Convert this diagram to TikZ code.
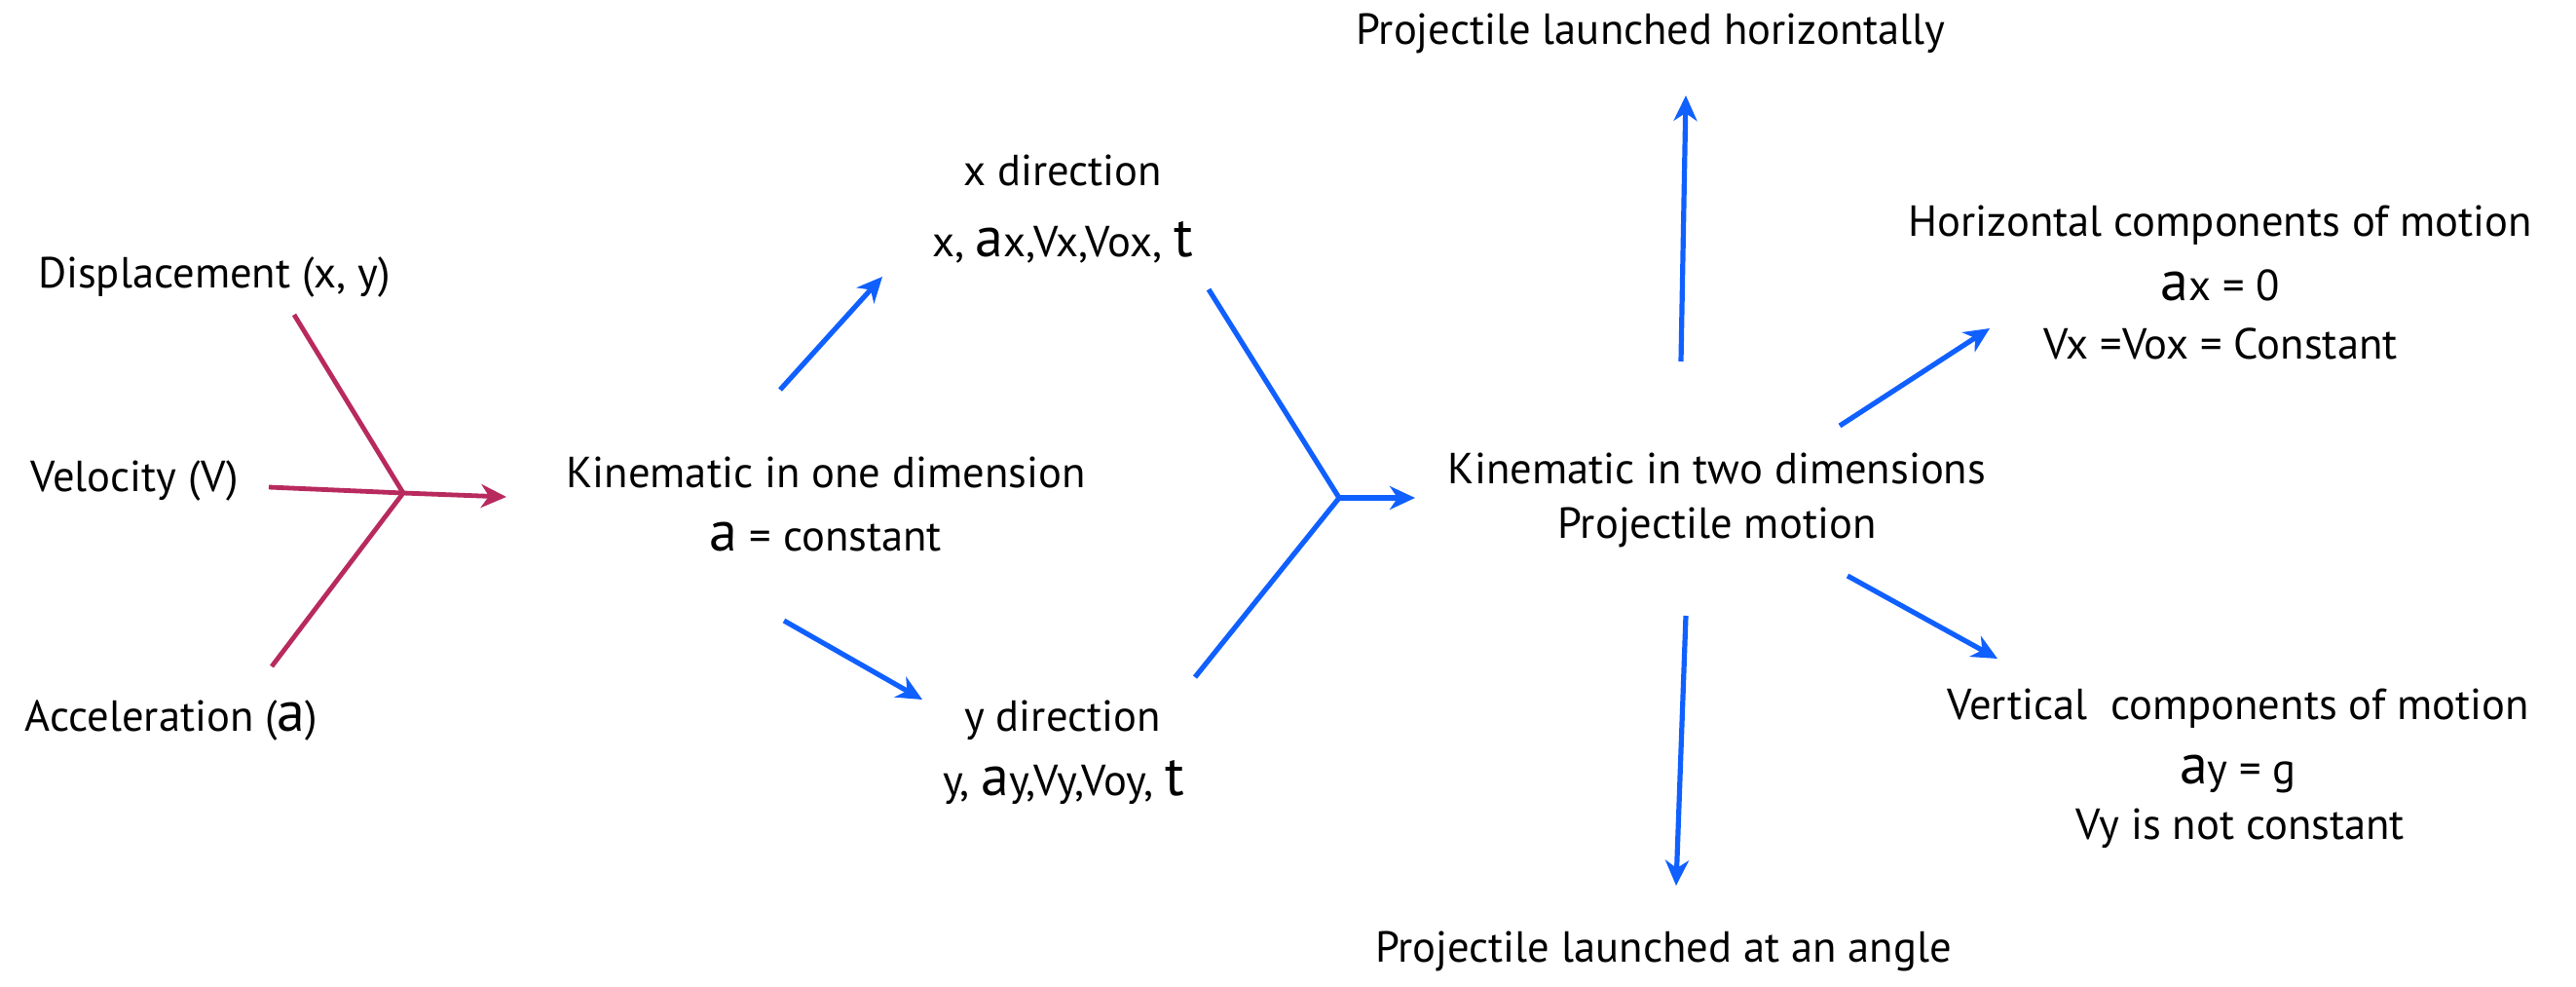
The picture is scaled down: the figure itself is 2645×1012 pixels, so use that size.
\documentclass[tikz,border=0pt]{standalone}
\usepackage{fontspec}
\setmainfont{PT Sans}
\usetikzlibrary{arrows.meta}
\definecolor{mag}{RGB}{184,42,94}
\definecolor{blu}{RGB}{16,96,255}
\newcommand{\bgl}[1]{{\fontsize{29}{29}\selectfont #1}}
\begin{document}
\begin{tikzpicture}[x=0.5pt,y=-0.5pt,
  txt/.style={font=\fontsize{22.3}{26}\selectfont, inner sep=0pt, anchor=base},
  mline/.style={draw=mag, line width=2.4pt},
  bline/.style={draw=blu, line width=2.6pt},
  tipm/.style={-{Stealth[length=13pt,width=12pt,inset=4pt]}},
]
\useasboundingbox (0,0) rectangle (2645,1012);
\fill[white] (0,0) rectangle (2645,1012);

% texts
\node[txt] (disp) at (220,295) {Displacement (x, y)};
\node[txt] (vel)  at (138,504) {Velocity (V)};
\node[txt] (acc)  at (176,750) {Acceleration (\bgl{a})};
\node[txt] (kin1) at (848,500) {Kinematic in one dimension};
\node[txt] (acst) at (848,565) {\bgl{a} = constant};
\node[txt] (xdir) at (1091,190) {x direction};
\node[txt] (xvar) at (1091,263) {x, \bgl{a}x,Vx,Vox, \bgl{t}};
\node[txt] (ydir) at (1091,750) {y direction};
\node[txt] (yvar) at (1092,816) {y, \bgl{a}y,Vy,Voy, \bgl{t}};
\node[txt] (kin2) at (1763,496) {Kinematic in two dimensions};
\node[txt] (pm)   at (1763,552) {Projectile motion};
\node[txt] (ph)   at (1695,46)  {Projectile launched horizontally};
\node[txt] (pa)   at (1708,987) {Projectile launched at an angle};
\node[txt] (hor)  at (2280,242) {Horizontal components of motion};
\node[txt] (ax0)  at (2280,308) {\bgl{a}x = 0};
\node[txt] (vxc)  at (2280,368) {Vx =Vox = Constant};
\node[txt] (ver)  at (2298,738) {Vertical~ components of motion};
\node[txt] (ayg)  at (2298,804) {\bgl{a}y = g};
\node[txt] (vyn)  at (2300,861) {Vy is not constant};

% connector end points
\coordinate (d1) at (302,323);
\coordinate (v1) at (276,500);
\coordinate (a1) at (279,684);
\coordinate (J1) at (414,506);
\coordinate (t1) at (520,510);
\coordinate (k1u) at (801,400);
\coordinate (k1ut) at (906,284);
\coordinate (k1d) at (805,637);
\coordinate (k1dt) at (947,718);
\coordinate (xl) at (1241,297);
\coordinate (yl) at (1227,695);
\coordinate (J2) at (1375,511);
\coordinate (t2) at (1453,511);
\coordinate (k2u) at (1726,371);
\coordinate (k2ut) at (1731,98);
\coordinate (k2h) at (1889,437);
\coordinate (k2ht) at (2043,337);
\coordinate (k2v) at (1897,591);
\coordinate (k2vt) at (2051,676);
\coordinate (k2d) at (1731,632);
\coordinate (k2dt) at (1721,909);

% magenta
\draw[mline] (d1) -- (J1);
\draw[mline] (a1) -- (J1);
\draw[mline] (v1) -- (J1);
\draw[mline,tipm] (J1) -- (t1);

% blue
\draw[bline,tipm] (k1u) -- (k1ut);
\draw[bline,tipm] (k1d) -- (k1dt);
\draw[bline] (xl) -- (J2) -- (yl);
\draw[bline,tipm] (J2) -- (t2);
\draw[bline,tipm] (k2u) -- (k2ut);
\draw[bline,tipm] (k2h) -- (k2ht);
\draw[bline,tipm] (k2v) -- (k2vt);
\draw[bline,tipm] (k2d) -- (k2dt);
\end{tikzpicture}
\end{document}
